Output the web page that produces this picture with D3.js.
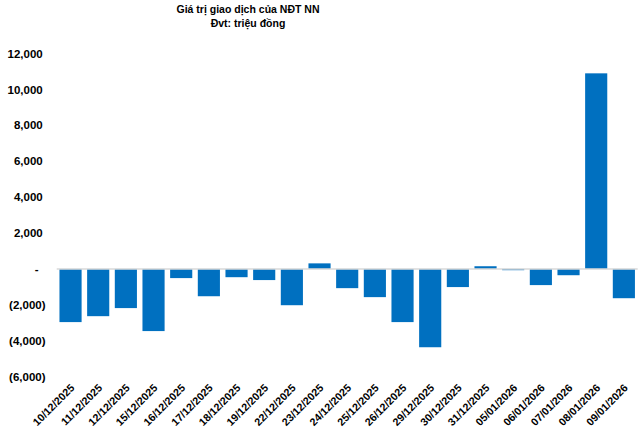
<!DOCTYPE html>
<html><head><meta charset="utf-8">
<script src="https://cdn.jsdelivr.net/npm/d3@7"></script>
<style>body{margin:0;background:#fff;} svg{display:block;font-family:"Liberation Sans",Arial,sans-serif;}</style>
</head><body>
<svg id="c" width="640" height="435"></svg>
<script>
const categories = ["10/12/2025","11/12/2025","12/12/2025","15/12/2025","16/12/2025","17/12/2025","18/12/2025","19/12/2025","22/12/2025","23/12/2025","24/12/2025","25/12/2025","26/12/2025","29/12/2025","30/12/2025","31/12/2025","05/01/2026","06/01/2026","07/01/2026","08/01/2026","09/01/2026"];
const values = [-2960,-2630,-2180,-3460,-510,-1520,-460,-620,-2020,310,-1070,-1570,-2960,-4360,-1010,150,-70,-900,-350,10890,-1630];
const yTicks = [-6000,-4000,-2000,0,2000,4000,6000,8000,10000,12000];
const titleLines = ["Giá trị giao dịch của NĐT NN","Đvt: triệu đồng"];

const svg = d3.select("#c");
const x = d3.scaleBand().domain(categories).range([56.7, 637.7]).paddingInner(0.2).paddingOuter(0.1);
const y = d3.scaleLinear().domain([-6000, 12000]).range([376.7, 53.4]);

const fmt = v => v === 0 ? "-" : (v < 0 ? "(" + d3.format(",")(-v) + ")" : d3.format(",")(v));

// title
svg.append("g").selectAll("text").data(titleLines).join("text")
  .attr("x", 248).attr("y", (d,i) => 13 + i*14)
  .attr("text-anchor","middle").attr("font-weight","bold").attr("font-size","10.5px").attr("fill","#000")
  .text(d => d);

// y axis labels
const yAxis = d3.axisLeft(y).tickValues(yTicks).tickSize(0).tickPadding(0).tickFormat(fmt);
const yg = svg.append("g").attr("transform","translate(45.5,0)").call(yAxis);
yg.select(".domain").remove();
yg.selectAll("text").attr("font-family","Liberation Sans, Arial, sans-serif").attr("font-size","11.5px").attr("font-weight","bold").attr("fill","#000")
  .attr("dx", d => d > 0 ? -2.8 : (d === 0 ? -7 : 0));

// bars
svg.append("g").selectAll("rect").data(values).join("rect")
  .attr("x", (d,i) => x(categories[i]))
  .attr("width", x.bandwidth())
  .attr("y", d => y(Math.max(0,d)))
  .attr("height", d => Math.abs(y(d) - y(0)))
  .attr("fill","#0070c0");

// zero line
svg.append("line").attr("x1",56.7).attr("x2",637.7).attr("y1",y(0)).attr("y2",y(0))
  .attr("stroke","#d9d9d9").attr("stroke-width",1.5);

// x labels
const xAxis = d3.axisBottom(x).tickSize(0).tickPadding(0);
const xg = svg.append("g").attr("transform","translate(0,386)").call(xAxis);
xg.select(".domain").remove();
xg.selectAll("text").attr("font-family","Liberation Sans, Arial, sans-serif").attr("font-size","10.7px").attr("font-weight","bold").attr("fill","#000")
  .attr("text-anchor","end").attr("dy","0.35em")
  .attr("transform","translate(2,0) rotate(-45)");
</script>
</body></html>
